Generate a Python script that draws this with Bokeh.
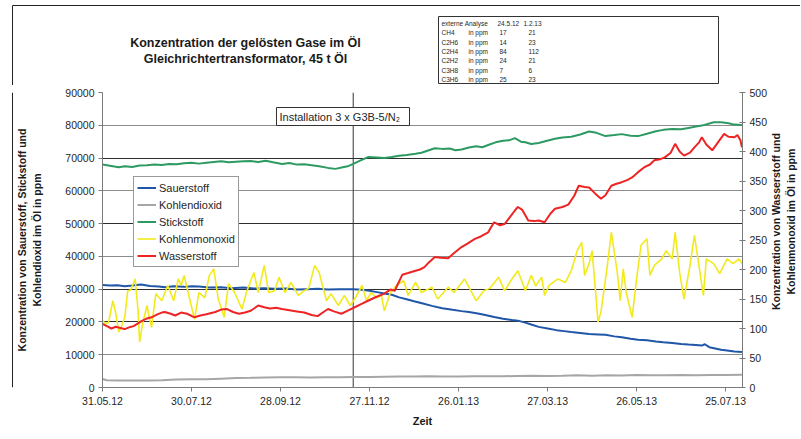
import math
import pandas as pd
from bokeh.plotting import figure
from bokeh.layouts import column, row
from bokeh.models import (Range1d, LinearAxis, FixedTicker, Grid, Span, Label,
                          BoxAnnotation, Legend, LegendItem)
from bokeh.embed import file_html
from bokeh.resources import INLINE

# ---------------- data ----------------
START = "2012-05-31"
END_DAYS = 431.4
INSTALL_DATE = "2012-11-16"

tick_dates = ["2012-05-31", "2012-07-30", "2012-09-28", "2012-11-27",
              "2013-01-26", "2013-03-27", "2013-05-26", "2013-07-25"]
tick_labels = ["31.05.12", "30.07.12", "28.09.12", "27.11.12",
               "26.01.13", "27.03.13", "26.05.13", "25.07.13"]
left_ticks = [0, 10000, 20000, 30000, 40000, 50000, 60000, 70000, 80000, 90000]
right_ticks = [0, 50, 100, 150, 200, 250, 300, 350, 400, 450, 500]

# Sauerstoff (left axis)
o2_day = [0, 5, 10, 15, 20, 26, 32, 38, 42, 48, 55, 60, 65, 72, 80, 87, 95, 102, 109, 116,
          124, 131, 138, 145, 152, 160, 169, 175, 180, 185, 190, 195, 200, 205, 210, 216,
          222, 229, 236, 242, 247, 253, 258, 264, 270, 276, 280, 285, 289, 294, 300, 306,
          311, 316, 322, 328, 334, 339, 345, 350, 356, 361, 367, 373, 378, 384, 390, 395,
          400, 404, 406, 409, 413, 417, 421, 426, 431]
o2_val = [31300, 31100, 31200, 30900, 31100, 31400, 31000, 30800, 30600, 30900, 30700,
          30900, 30800, 30500, 30600, 30300, 30500, 30200, 30300, 30100, 30200, 29900,
          30000, 30100, 29900, 30000, 30000, 29800, 29500, 29100, 28700, 28300, 27500,
          26900, 26300, 25600, 24900, 24200, 23700, 23300, 23000, 22600, 22100, 21500,
          21000, 20600, 20400, 19800, 19200, 18500, 18000, 17500, 17200, 16900, 16600,
          16300, 16200, 16100, 15600, 15300, 14900, 14600, 14400, 14000, 13800, 13600,
          13300, 13100, 13000, 12800, 13200, 12300, 11900, 11500, 11300, 11000, 10800]

# Kohlendioxid (left axis)
co2_day = [0, 3, 10, 20, 30, 40, 50, 60, 70, 80, 90, 100, 110, 120, 130, 140, 150, 160,
           170, 180, 190, 200, 210, 220, 230, 240, 250, 260, 270, 280, 290, 300, 310, 320,
           330, 340, 350, 360, 370, 380, 390, 400, 410, 420, 431]
co2_val = [2600, 2200, 2100, 2100, 2150, 2200, 2450, 2500, 2500, 2700, 2900, 2950, 3050,
           3100, 3100, 3050, 3100, 3150, 3200, 3200, 3300, 3350, 3350, 3400, 3350, 3350,
           3400, 3400, 3450, 3500, 3550, 3500, 3550, 3700, 3600, 3700, 3650, 3800, 3750,
           3700, 3800, 3750, 3850, 3850, 3900]

# Stickstoff (left axis)
n2_day = [0, 4, 8, 11, 15, 20, 25, 30, 35, 40, 45, 50, 55, 60, 65, 70, 75, 80, 85, 90, 95,
          100, 105, 110, 115, 121, 126, 131, 136, 141, 146, 152, 157, 162, 166, 169, 174,
          179, 185, 190, 195, 200, 205, 211, 215, 220, 224, 229, 234, 238, 242, 247, 252,
          256, 260, 265, 270, 274, 278, 282, 285, 289, 294, 299, 305, 310, 316, 322, 328,
          333, 339, 345, 350, 356, 361, 367, 373, 378, 384, 390, 395, 400, 404, 408, 412,
          417, 422, 426, 431]
n2_val = [68000, 67700, 67400, 67200, 67500, 67300, 67700, 67800, 68000, 67900, 68200,
          68100, 68400, 68550, 68300, 68600, 68800, 69000, 68700, 68900, 69000, 69100,
          68800, 69200, 68700, 68200, 68500, 68000, 68100, 67800, 67500, 67000, 66700,
          67200, 67600, 68200, 69300, 70300, 70200, 70000, 70300, 70700, 70900, 71300,
          71600, 72400, 73000, 72800, 72900, 72400, 72600, 73200, 73600, 73300, 74000,
          74800, 75300, 75400, 76100, 75000, 74800, 74300, 74600, 75200, 75900, 76300,
          76500, 77200, 78100, 77700, 76700, 77000, 77300, 76800, 76700, 77400, 78200,
          78600, 78900, 78800, 79200, 79600, 79900, 80400, 80900, 80900, 80600, 80200,
          80100]

# Kohlenmonoxid (right axis)
co_day = [0, 2, 4, 7, 9, 11, 13, 15, 17, 19, 22, 24, 25, 27, 30, 31, 33, 36, 40, 44, 48,
          51, 53, 55, 59, 62, 65, 69, 72, 75, 78, 82, 85, 89, 94, 97, 102, 105, 109, 112,
          116, 119, 123, 127, 132, 136, 139, 143, 146, 151, 154, 159, 163, 167, 170, 175,
          178, 181, 185, 188, 190, 194, 198, 203, 206, 211, 215, 222, 226, 233, 237, 244,
          249, 252, 257, 261, 267, 271, 276, 280, 285, 289, 292, 296, 298, 301, 307, 312,
          316, 320, 323, 325, 328, 330, 332, 334, 336, 340, 343, 347, 349, 351, 353, 357,
          360, 363, 367, 369, 372, 377, 380, 384, 386, 389, 392, 396, 399, 403, 405, 407,
          412, 416, 421, 425, 429, 431]
co_val = [114, 108, 110, 147, 125, 94, 105, 119, 164, 165, 184, 130, 77, 108, 139, 125,
          102, 159, 147, 173, 147, 184, 173, 190, 147, 116, 161, 152, 190, 201, 150, 119,
          176, 161, 133, 161, 195, 161, 207, 161, 164, 187, 161, 178, 156, 164, 168, 207,
          195, 147, 159, 139, 156, 139, 150, 173, 147, 161, 152, 156, 130, 161, 173, 181,
          156, 178, 161, 170, 150, 170, 161, 184, 161, 147, 164, 168, 187, 164, 184, 198,
          164, 190, 172, 187, 156, 173, 184, 178, 198, 232, 246, 190, 210, 232, 173, 111,
          128, 201, 263, 195, 147, 201, 161, 119, 184, 241, 252, 190, 207, 218, 232, 218,
          263, 195, 150, 207, 258, 190, 156, 218, 210, 193, 218, 210, 218, 210]

# Wasserstoff (right axis)
h2_day = [0, 3, 6, 9, 12, 15, 18, 21, 26, 30, 33, 37, 40, 42, 46, 49, 53, 57, 62, 66, 70,
          76, 80, 84, 88, 92, 96, 100, 105, 109, 113, 117, 121, 126, 131, 136, 141, 145,
          149, 152, 156, 161, 165, 170, 175, 179, 184, 190, 194, 197, 200, 202, 206, 211,
          214, 217, 220, 224, 228, 233, 237, 242, 246, 251, 255, 260, 262, 264, 268, 271,
          275, 278, 280, 283, 287, 291, 294, 298, 302, 305, 310, 314, 318, 321, 325, 328,
          332, 336, 339, 343, 346, 350, 354, 357, 361, 365, 369, 372, 376, 379, 383, 386,
          389, 392, 396, 399, 402, 404, 407, 411, 415, 419, 422, 426, 428, 430, 431]
h2_val = [108, 104, 100, 103, 101, 99, 102, 104, 112, 117, 119, 124, 127, 128, 125, 122,
          127, 125, 119, 122, 124, 128, 132, 133, 128, 125, 127, 130, 139, 136, 134, 135,
          133, 131, 129, 127, 123, 121, 128, 133, 129, 125, 130, 136, 142, 147, 153, 159,
          166, 164, 180, 191, 194, 198, 200, 204, 212, 221, 220, 219, 228, 238, 244, 252,
          256, 263, 272, 280, 275, 277, 290, 300, 306, 301, 283, 282, 283, 280, 295, 303,
          306, 310, 325, 342, 340, 339, 329, 320, 326, 342, 345, 348, 352, 356, 365, 373,
          378, 385, 387, 390, 398, 413, 400, 393, 398, 407, 415, 424, 412, 402, 416, 430,
          425, 424, 428, 419, 407]

table_header = ["externe Analyse", "24.5.12", "1.2.13"]
table_gases = ["CH4", "C2H6", "C2H4", "C2H2", "C3H8", "C3H6"]
table_unit = "in ppm"
table_2405 = [17, 14, 84, 24, 7, 25]
table_0102 = [21, 23, 112, 21, 6, 23]

title_lines = ["Konzentration der gelösten Gase im Öl", "Gleichrichtertransformator, 45 t Öl"]
left_title = "Konzentration von Sauerstoff, Stickstoff und\nKohlendioxid im Öl in ppm"
right_title = "Konzentration von Wasserstoff und\nKohlenmonoxid im Öl in ppm"

FONT = "Liberation Sans"
TXT = "#262626"

def blank_fig(w, h):
    f = figure(width=w, height=h, output_backend="svg", toolbar_location=None,
               x_range=Range1d(0, w), y_range=Range1d(h, 0),
               min_border=0, x_axis_type=None, y_axis_type=None)
    f.outline_line_color = None
    f.xgrid.visible = False
    f.ygrid.visible = False
    return f

# ---------------- header strip (title + table) ----------------
TOP_H = 85
W = 800
head = blank_fig(W, TOP_H)
# outer chart frame (top and left edges)
head.add_layout(BoxAnnotation(left=12, right=W + 50, top=5, bottom=TOP_H + 50,
                              fill_alpha=0, line_color="#222222", line_width=1, line_alpha=1))

for txt, yy in zip(title_lines, [42, 58]):
    head.add_layout(Label(x=245, y=yy, text=txt, text_font=FONT, text_font_size="12.5px",
                          text_font_style="bold", text_align="center",
                          text_baseline="middle", text_color="#1a1a1a"))

head.add_layout(BoxAnnotation(left=438, right=718, top=16, bottom=83,
                              fill_color="white", fill_alpha=1,
                              line_color="#333333", line_width=1, line_alpha=1))

def tlabel(x, y, t):
    head.add_layout(Label(x=x, y=y, text=str(t), text_font=FONT, text_font_size="6.5px",
                          text_align="left", text_baseline="middle", text_color=TXT))

row0 = 23
tlabel(441, row0, table_header[0])
tlabel(497, row0, table_header[1])
tlabel(523, row0, table_header[2])
for i, (g, a, b) in enumerate(zip(table_gases, table_2405, table_0102)):
    yy = row0 + 9.35 * (i + 1)
    tlabel(441, yy, g)
    tlabel(468, yy, table_unit)
    tlabel(499, yy, a)
    tlabel(528, yy, b)

# ---------------- main chart ----------------
start = pd.Timestamp(START)
tick_days = [(pd.Timestamp(d) - start).days for d in tick_dates]
install_day = (pd.Timestamp(INSTALL_DATE) - start).days

STRIP_W = 13
MAIN_W = 757
MAIN_H = 353
p = figure(width=MAIN_W, height=MAIN_H, output_backend="svg", toolbar_location=None,
           x_range=Range1d(0, END_DAYS), y_range=Range1d(0, 90000),
           min_border_left=88, min_border_right=28, min_border_top=7, min_border_bottom=51,
           background_fill_color="white", border_fill_color="white")
p.outline_line_color = None
p.xgrid.visible = False
p.ygrid.visible = False
p.extra_y_ranges = {"right": Range1d(0, 500)}

p.add_layout(Grid(dimension=1, ticker=FixedTicker(ticks=[10000, 40000, 60000, 80000]),
                  grid_line_color="#8c8c8c", grid_line_width=1))
p.add_layout(Grid(dimension=1, ticker=FixedTicker(ticks=[20000, 30000, 50000, 70000, 90000]),
                  grid_line_color="#2e2e2e", grid_line_width=1))

xa = p.xaxis[0]
xa.ticker = FixedTicker(ticks=tick_days)
xa.major_label_overrides = {d: lab for d, lab in zip(tick_days, tick_labels)}
xa.axis_label = "Zeit"
xa.axis_label_standoff = 7
xa.major_label_standoff = 5

ya = p.yaxis[0]
ya.ticker = FixedTicker(ticks=left_ticks)
ya.axis_label = left_title
ya.axis_label_standoff = 19
ya.major_label_standoff = 4
ya.axis_label_text_line_height = 1.25

ra = LinearAxis(y_range_name="right", ticker=FixedTicker(ticks=right_ticks),
                major_tick_in=3, major_tick_out=3, major_label_standoff=4)
p.add_layout(ra, "right")

for ax in (xa, ya, ra):
    ax.axis_line_color = "#7a7a7a"
    ax.major_tick_line_color = "#7a7a7a"
    ax.minor_tick_line_color = None
    ax.major_label_text_font = FONT
    ax.major_label_text_font_size = "10.5px"
    ax.major_label_text_color = TXT
    ax.axis_label_text_font = FONT
    ax.axis_label_text_font_style = "bold"
    ax.axis_label_text_font_size = "10.5px"
    ax.axis_label_text_color = "#1a1a1a"
xa.major_tick_in = 0
xa.major_tick_out = 4
ya.major_tick_in = 0
ya.major_tick_out = 4
xa.axis_label_text_font_size = "11px"

p.add_layout(Span(location=install_day, dimension="height", line_color="#333333",
                  line_width=1, level="underlay"))

r_o2 = p.line(o2_day, o2_val, line_color="#1f56a8", line_width=2)
r_co2 = p.line(co2_day, co2_val, line_color="#a6a6a6", line_width=2)
r_n2 = p.line(n2_day, n2_val, line_color="#2c9a62", line_width=2)
r_co = p.line(co_day, co_val, line_color="#f2ea1c", line_width=1.6, y_range_name="right")
r_h2 = p.line(h2_day, h2_val, line_color="#ee2424", line_width=2, y_range_name="right")

legend = Legend(items=[LegendItem(label="Sauerstoff", renderers=[r_o2]),
                       LegendItem(label="Kohlendioxid", renderers=[r_co2]),
                       LegendItem(label="Stickstoff", renderers=[r_n2]),
                       LegendItem(label="Kohlenmonoxid", renderers=[r_co]),
                       LegendItem(label="Wasserstoff", renderers=[r_h2])],
                location=(31, 120), border_line_color="#333333", border_line_width=1,
                background_fill_color="white", background_fill_alpha=1,
                padding=3, spacing=2, margin=0, label_height=15, glyph_height=15,
                glyph_width=19, label_standoff=3, label_text_font=FONT,
                label_text_font_size="11px", label_text_color=TXT)
p.add_layout(legend)

p.add_layout(BoxAnnotation(left=174, right=307, top=280, bottom=262,
                           left_units="screen", right_units="screen",
                           top_units="screen", bottom_units="screen",
                           fill_color="white", fill_alpha=1,
                           line_color="#333333", line_width=1, line_alpha=1))
p.add_layout(Label(x=177, y=271, x_units="screen", y_units="screen",
                   text="Installation 3 x G3B-5/N₂", text_font=FONT,
                   text_font_size="11px", text_align="left", text_baseline="middle",
                   text_color=TXT))

# ---------------- left frame strip ----------------
left_strip = blank_fig(STRIP_W, MAIN_H)
left_strip.add_layout(Span(location=12, dimension="height", line_color="#222222",
                           line_width=1))

# ---------------- right axis title strip ----------------
LAB_W = W - STRIP_W - MAIN_W
lab = blank_fig(LAB_W, MAIN_H)
lab.add_layout(Label(x=783 - STRIP_W - MAIN_W, y=154.5, angle=math.pi / 2, text=right_title,
                     text_font=FONT, text_font_size="10.5px", text_font_style="bold",
                     text_align="center", text_baseline="middle", text_line_height=1.25,
                     text_color="#1a1a1a"))

layout = column(head, row(left_strip, p, lab))
open("out.html", "w").write(file_html(layout, INLINE))
